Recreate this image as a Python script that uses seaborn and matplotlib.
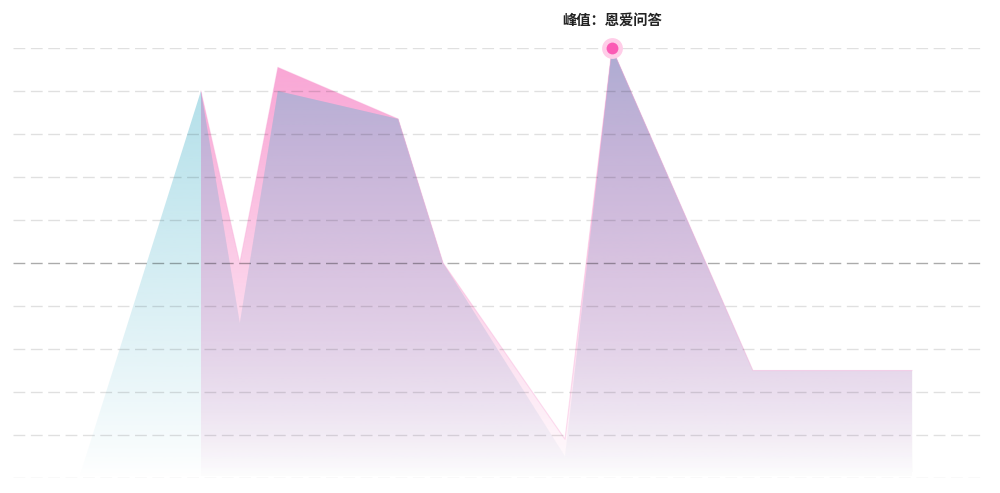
import numpy as np
import pandas as pd
import seaborn as sns
import matplotlib.pyplot as plt
from matplotlib.colors import to_rgb
from matplotlib.patches import Polygon

# ---- data ----
hours = [1.63, 4.64, 5.60, 6.54, 9.51, 10.62, 13.63, 14.79, 18.27, 22.20]
cyan_vals = [0, 90, 36, 90, 83.5, 50, 5, 100, 25, 25]
pink_vals = [np.nan, 90, 50, 95.5, 83.5, 50, 9, 100, 25, 25]
peak_label = "峰值：恩爱问答"
y_ticks = list(range(0, 101, 10))
mid_line = 50

CYAN = "#ADDDE8"
PINK = "#F9A3D4"
PURPLE_TOP = "#ACACD2"
PURPLE_BOT = "#EAD8EE"

sns.set_theme(style="white")
plt.rcParams["font.family"] = ["Noto Sans CJK SC", "DejaVu Sans"]
plt.rcParams["lines.scale_dashes"] = False

df = pd.DataFrame({"hour": hours, "cyan": cyan_vals, "pink": pink_vals})


def gradient_area(ax, x, y, top_color, bot_color=None, zorder=1):
    """area under (x, y) filled with a vertical colour/alpha gradient"""
    if bot_color is None:
        bot_color = top_color
    verts = [(x[0], 0)] + list(zip(x, y)) + [(x[-1], 0)]
    poly = Polygon(verts, closed=True, facecolor="none", edgecolor="none")
    ax.add_patch(poly)
    n = 256
    t = np.linspace(1, 0, n)[:, None]  # row 0 = top of axis
    grad = np.zeros((n, 1, 4))
    grad[:, :, :3] = t[:, :, None] * np.array(to_rgb(top_color)) + \
        (1 - t[:, :, None]) * np.array(to_rgb(bot_color))
    grad[:, 0, 3] = t[:, 0] ** 0.9
    im = ax.imshow(grad, extent=[x[0], x[-1], 0, 100], aspect="auto",
                   origin="upper", zorder=zorder, interpolation="bilinear")
    im.set_clip_path(poly)


def lower_envelope(x, a, b):
    xs, ys = [], []
    for i in range(len(x)):
        xs.append(x[i])
        ys.append(min(a[i], b[i]))
        if i < len(x) - 1:
            d0, d1 = a[i] - b[i], a[i + 1] - b[i + 1]
            if d0 * d1 < 0:
                t = d0 / (d0 - d1)
                xs.append(x[i] + t * (x[i + 1] - x[i]))
                ys.append(a[i] + t * (a[i + 1] - a[i]))
    return xs, ys


fig = plt.figure(figsize=(10, 4.93), dpi=100)
ax = fig.add_axes([13 / 1000, 15 / 493, 972 / 1000, 430 / 493])

gradient_area(ax, df["hour"].tolist(), df["cyan"].tolist(), CYAN, zorder=1)

pk = df.dropna(subset=["pink"])
gradient_area(ax, pk["hour"].tolist(), pk["pink"].tolist(), PINK, zorder=2)

ox, oy = lower_envelope(pk["hour"].tolist(), pk["cyan"].tolist(), pk["pink"].tolist())
gradient_area(ax, ox, oy, PURPLE_TOP, PURPLE_BOT, zorder=3)

sns.lineplot(data=pk, x="hour", y="pink", ax=ax, color=PINK, lw=0.8,
             alpha=0.35, zorder=4)

# grid lines (translucent so they darken the areas underneath)
for v in y_ticks:
    a = 0.33 if v == mid_line else 0.12
    ax.axhline(v, color="black", alpha=a, lw=1.0, dashes=(8.5, 4), zorder=5)

# peak marker
imax = int(np.nanargmax(pink_vals))
px, py = hours[imax], pink_vals[imax]
ax.plot(px, py, "o", ms=15, color="#FFCDE8", mec="none", zorder=6, clip_on=False)
ax.plot(px, py, "o", ms=8.5, color="#FB5BB5", mec="none", zorder=7, clip_on=False)
ax.annotate(peak_label, xy=(px, py), xytext=(0, 19.5), textcoords="offset points",
            ha="center", va="center", fontsize=10.3, fontweight="bold",
            color="#222222", annotation_clip=False)

ax.set_xlim(0, 24)
ax.set_ylim(0, 100)
ax.set_xlabel("")
ax.set_ylabel("")
ax.set_xticks([])
ax.set_yticks([])
for s in ax.spines.values():
    s.set_visible(False)

fig.savefig("out.png", dpi=100, facecolor="white")
